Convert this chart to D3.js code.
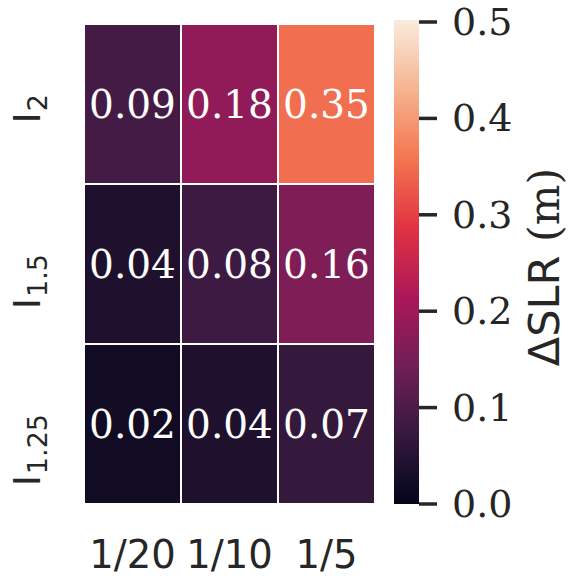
<!DOCTYPE html>
<html>
<head>
<meta charset="utf-8">
<script src="https://cdn.jsdelivr.net/npm/d3@7"></script>
<style>
  body { margin: 0; background: #fff; }
  svg { display: block; }
</style>
</head>
<body>
<div id="chart"></div>
<script>
// heatmap data, rows top to bottom
var ROW_SUBS = ["2", "1.5", "1.25"];
var COLS = ["1/20", "1/10", "1/5"];
var VALUES = [
  [0.09, 0.18, 0.35],
  [0.04, 0.08, 0.16],
  [0.02, 0.04, 0.07]
];
var CB_TICKS = [0.0, 0.1, 0.2, 0.3, 0.4, 0.5];
var VMIN = 0, VMAX = 0.5;

// seaborn "rocket" approximation
var ROCKET = ["#03051a", "#35193e", "#701f57", "#ad1759", "#e13342", "#f37651", "#f6b48f", "#faebdd"];
var rocketPos = ROCKET.map(function(d, i) { return i / (ROCKET.length - 1); });

var W = 571, H = 576;
var TXT = "#262626";
var SERIF = "'DejaVu Serif', serif";
var SANS = "'DejaVu Sans', sans-serif";

var svg = d3.select("#chart").append("svg")
  .attr("width", W)
  .attr("height", H);

var x = d3.scaleBand().domain(COLS).range([84, 375]);
var y = d3.scaleBand().domain(ROW_SUBS).range([24, 504]);
var cmap = d3.scaleLinear().domain(rocketPos).range(ROCKET).interpolate(d3.interpolateRgb);
var norm = d3.scaleLinear().domain([VMIN, VMAX]).range([0, 1]).clamp(true);

var cells = [];
VALUES.forEach(function(row, i) {
  row.forEach(function(v, j) {
    cells.push({ r: ROW_SUBS[i], c: COLS[j], v: v });
  });
});

svg.selectAll("rect.cell")
  .data(cells)
  .enter().append("rect")
  .attr("class", "cell")
  .attr("x", function(d) { return x(d.c); })
  .attr("y", function(d) { return y(d.r); })
  .attr("width", x.bandwidth())
  .attr("height", y.bandwidth())
  .attr("fill", function(d) { return cmap(norm(d.v)); })
  .attr("stroke", "#fff")
  .attr("stroke-width", 2);

svg.selectAll("text.annot")
  .data(cells)
  .enter().append("text")
  .attr("class", "annot")
  .attr("x", function(d) { return x(d.c) + x.bandwidth() / 2; })
  .attr("y", function(d) { return y(d.r) + y.bandwidth() / 2; })
  .attr("text-anchor", "middle")
  .attr("dominant-baseline", "central")
  .style("font-family", SERIF)
  .style("font-size", "39px")
  .style("fill", "#fff")
  .text(function(d) { return d3.format(".2f")(d.v); });

// x tick labels
svg.selectAll("text.xlab")
  .data(COLS)
  .enter().append("text")
  .attr("class", "xlab")
  .attr("x", function(d) { return x(d) + x.bandwidth() / 2; })
  .attr("y", 568)
  .attr("text-anchor", "middle")
  .style("font-family", SANS)
  .style("font-size", "38.5px")
  .style("fill", TXT)
  .text(function(d) { return d; });

// y tick labels, rotated, "I" with subscript
var ylab = svg.selectAll("text.ylab")
  .data(ROW_SUBS)
  .enter().append("text")
  .attr("class", "ylab")
  .attr("transform", function(d) {
    return "translate(40," + (y(d) + y.bandwidth() / 2 - 10) + ") rotate(-90)";
  })
  .attr("text-anchor", "end")
  .style("font-family", SANS)
  .style("fill", TXT);
ylab.append("tspan")
  .style("font-size", "38px")
  .text("I");
ylab.append("tspan")
  .attr("dy", 7)
  .attr("dx", 1)
  .style("font-size", "27px")
  .text(function(d) { return d; });

// colorbar
var cbX = 394, cbW = 25;
var cy = d3.scaleLinear().domain([VMIN, VMAX]).range([504, 22]);

var grad = svg.append("defs").append("linearGradient")
  .attr("id", "rocket")
  .attr("x1", "0").attr("y1", "1")
  .attr("x2", "0").attr("y2", "0");
grad.selectAll("stop")
  .data(ROCKET)
  .enter().append("stop")
  .attr("offset", function(d, i) { return rocketPos[i]; })
  .attr("stop-color", function(d) { return d; });

svg.append("rect")
  .attr("x", cbX)
  .attr("y", cy(VMAX) - 2)
  .attr("width", cbW)
  .attr("height", cy(VMIN) - cy(VMAX) + 2)
  .attr("fill", "url(#rocket)");

var cbAxis = svg.append("g");
cbAxis.selectAll("line")
  .data(CB_TICKS)
  .enter().append("line")
  .attr("x1", cbX + cbW)
  .attr("x2", cbX + cbW + 18)
  .attr("y1", function(d) { return cy(d); })
  .attr("y2", function(d) { return cy(d); })
  .attr("stroke", TXT)
  .attr("stroke-width", 3.5);
cbAxis.selectAll("text")
  .data(CB_TICKS)
  .enter().append("text")
  .attr("x", 452)
  .attr("y", function(d) { return cy(d); })
  .attr("dominant-baseline", "central")
  .style("font-family", SERIF)
  .style("font-size", "38px")
  .style("fill", TXT)
  .text(function(d) { return d3.format(".1f")(d); });

// colorbar label
var cbl = svg.append("text")
  .attr("transform", "translate(559," + (cy(0.25) + 4) + ") rotate(-90)")
  .attr("text-anchor", "middle")
  .style("fill", TXT)
  .style("font-size", "43px");
cbl.append("tspan").style("font-family", SANS).text("\u0394SLR");
cbl.append("tspan").style("font-family", SERIF).text(" (m)");
</script>
</body>
</html>
